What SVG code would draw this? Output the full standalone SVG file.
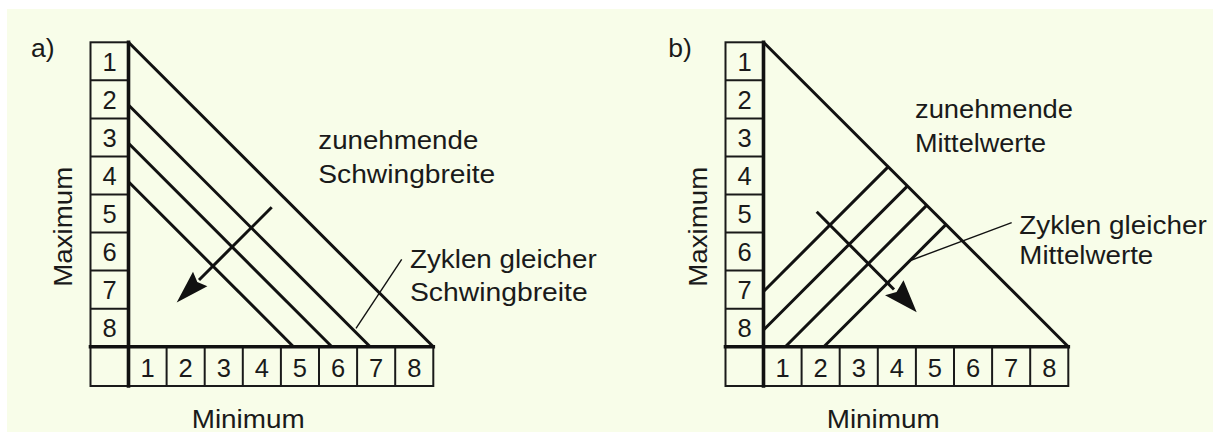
<svg xmlns="http://www.w3.org/2000/svg" width="1213" height="432" viewBox="0 0 1213 432">
  <style>
    .bg { fill: #f8fde9; }
    .cell { fill: none; stroke: #1a1a1a; stroke-width: 2; }
    .axis { fill: none; stroke: #111; stroke-width: 3.6; stroke-linecap: square; }
    .diag { fill: none; stroke: #111; stroke-width: 3; }
    .leader { fill: none; stroke: #111; stroke-width: 1.4; }
    .head { fill: #111; stroke: none; }
    text { font-family: "Liberation Sans", Arial, Helvetica, sans-serif; fill: #1a1a1a; }
    .lbl { font-size: 26.5px; }
    .dig { font-size: 25.5px; text-anchor: middle; }
  </style>
  <rect x="0" y="0" width="1213" height="432" fill="#ffffff"/>
  <rect class="bg" x="7" y="9" width="1206" height="423"/>

  <!-- Panel a -->
  <g id="panel-a">
    <g id="a-connectors">
      <line class="diag" x1="128.5" y1="42.3" x2="433.3" y2="346.7"/>
      <line class="diag" x1="128.5" y1="105" x2="370.2" y2="346.7"/>
      <line class="diag" x1="128.5" y1="143.3" x2="331.9" y2="346.7"/>
      <line class="diag" x1="128.5" y1="181.7" x2="293.5" y2="346.7"/>
      <line class="diag" x1="271.7" y1="207.3" x2="199" y2="280"/>
      <polygon class="head" points="176.7,302.5 193,271.8 197.3,281.9 207.4,286.2"/>
      <line class="leader" x1="401.7" y1="259.3" x2="356" y2="328.3"/>
    </g>
    <g id="a-max-axis">
      <rect class="cell" x="90.5" y="42.3" width="38" height="304.4"/>
      <line class="cell" x1="90.5" y1="80.35" x2="128.5" y2="80.35"/>
      <line class="cell" x1="90.5" y1="118.4" x2="128.5" y2="118.4"/>
      <line class="cell" x1="90.5" y1="156.45" x2="128.5" y2="156.45"/>
      <line class="cell" x1="90.5" y1="194.5" x2="128.5" y2="194.5"/>
      <line class="cell" x1="90.5" y1="232.55" x2="128.5" y2="232.55"/>
      <line class="cell" x1="90.5" y1="270.6" x2="128.5" y2="270.6"/>
      <line class="cell" x1="90.5" y1="308.65" x2="128.5" y2="308.65"/>
      <text class="dig" x="109.5" y="70.8">1</text>
      <text class="dig" x="109.5" y="108.85">2</text>
      <text class="dig" x="109.5" y="146.9">3</text>
      <text class="dig" x="109.5" y="184.95">4</text>
      <text class="dig" x="109.5" y="223">5</text>
      <text class="dig" x="109.5" y="261.05">6</text>
      <text class="dig" x="109.5" y="299.1">7</text>
      <text class="dig" x="109.5" y="337.15">8</text>
    </g>
    <g id="a-min-axis">
      <rect class="cell" x="90.5" y="346.7" width="342.8" height="39.3"/>
      <line class="cell" x1="166.6" y1="346.7" x2="166.6" y2="386"/>
      <line class="cell" x1="204.7" y1="346.7" x2="204.7" y2="386"/>
      <line class="cell" x1="242.8" y1="346.7" x2="242.8" y2="386"/>
      <line class="cell" x1="280.9" y1="346.7" x2="280.9" y2="386"/>
      <line class="cell" x1="319" y1="346.7" x2="319" y2="386"/>
      <line class="cell" x1="357.1" y1="346.7" x2="357.1" y2="386"/>
      <line class="cell" x1="395.2" y1="346.7" x2="395.2" y2="386"/>
      <text class="dig" x="147.55" y="376.5">1</text>
      <text class="dig" x="185.65" y="376.5">2</text>
      <text class="dig" x="223.75" y="376.5">3</text>
      <text class="dig" x="261.85" y="376.5">4</text>
      <text class="dig" x="299.95" y="376.5">5</text>
      <text class="dig" x="338.05" y="376.5">6</text>
      <text class="dig" x="376.15" y="376.5">7</text>
      <text class="dig" x="414.25" y="376.5">8</text>
    </g>
    <g id="a-axes">
      <line class="axis" x1="128.5" y1="42.3" x2="128.5" y2="386"/>
      <line class="axis" x1="90.5" y1="346.7" x2="433.3" y2="346.7"/>
    </g>
    <g id="a-labels">
      <text class="lbl" x="31" y="57">a)</text>
      <text class="lbl" x="318.3" y="149" textLength="160" lengthAdjust="spacingAndGlyphs">zunehmende</text>
      <text class="lbl" x="318.3" y="182.7" textLength="177" lengthAdjust="spacingAndGlyphs">Schwingbreite</text>
      <text class="lbl" x="410" y="268.3" textLength="186.7" lengthAdjust="spacingAndGlyphs">Zyklen gleicher</text>
      <text class="lbl" x="410" y="300.7" textLength="177.7" lengthAdjust="spacingAndGlyphs">Schwingbreite</text>
      <text class="lbl" x="191.7" y="428" textLength="113" lengthAdjust="spacingAndGlyphs">Minimum</text>
      <text class="lbl" transform="translate(71.5,286.7) rotate(-90)" x="0" y="0" textLength="120" lengthAdjust="spacingAndGlyphs">Maximum</text>
    </g>
  </g>

  <!-- Panel b -->
  <g id="panel-b">
    <g id="b-connectors">
      <line class="diag" x1="763.5" y1="42.3" x2="1068.3" y2="346.7"/>
      <line class="diag" x1="763.5" y1="291.5" x2="888.1" y2="166.9"/>
      <line class="diag" x1="763.5" y1="330" x2="907.35" y2="186.15"/>
      <line class="diag" x1="785.3" y1="346.7" x2="926.6" y2="205.4"/>
      <line class="diag" x1="823.8" y1="346.7" x2="945.85" y2="224.65"/>
      <line class="diag" x1="816.7" y1="211.7" x2="894" y2="289.5"/>
      <polygon class="head" points="916.7,312.3 903.5,280.3 896.5,291.9 885,295.3"/>
      <line class="leader" x1="1011.7" y1="222.7" x2="909" y2="261"/>
    </g>
    <g id="b-max-axis">
      <rect class="cell" x="725.5" y="42.3" width="38" height="304.4"/>
      <line class="cell" x1="725.5" y1="80.35" x2="763.5" y2="80.35"/>
      <line class="cell" x1="725.5" y1="118.4" x2="763.5" y2="118.4"/>
      <line class="cell" x1="725.5" y1="156.45" x2="763.5" y2="156.45"/>
      <line class="cell" x1="725.5" y1="194.5" x2="763.5" y2="194.5"/>
      <line class="cell" x1="725.5" y1="232.55" x2="763.5" y2="232.55"/>
      <line class="cell" x1="725.5" y1="270.6" x2="763.5" y2="270.6"/>
      <line class="cell" x1="725.5" y1="308.65" x2="763.5" y2="308.65"/>
      <text class="dig" x="744.5" y="70.8">1</text>
      <text class="dig" x="744.5" y="108.85">2</text>
      <text class="dig" x="744.5" y="146.9">3</text>
      <text class="dig" x="744.5" y="184.95">4</text>
      <text class="dig" x="744.5" y="223">5</text>
      <text class="dig" x="744.5" y="261.05">6</text>
      <text class="dig" x="744.5" y="299.1">7</text>
      <text class="dig" x="744.5" y="337.15">8</text>
    </g>
    <g id="b-min-axis">
      <rect class="cell" x="725.5" y="346.7" width="342.8" height="39.3"/>
      <line class="cell" x1="801.6" y1="346.7" x2="801.6" y2="386"/>
      <line class="cell" x1="839.7" y1="346.7" x2="839.7" y2="386"/>
      <line class="cell" x1="877.8" y1="346.7" x2="877.8" y2="386"/>
      <line class="cell" x1="915.9" y1="346.7" x2="915.9" y2="386"/>
      <line class="cell" x1="954" y1="346.7" x2="954" y2="386"/>
      <line class="cell" x1="992.1" y1="346.7" x2="992.1" y2="386"/>
      <line class="cell" x1="1030.2" y1="346.7" x2="1030.2" y2="386"/>
      <text class="dig" x="782.55" y="376.5">1</text>
      <text class="dig" x="820.65" y="376.5">2</text>
      <text class="dig" x="858.75" y="376.5">3</text>
      <text class="dig" x="896.85" y="376.5">4</text>
      <text class="dig" x="934.95" y="376.5">5</text>
      <text class="dig" x="973.05" y="376.5">6</text>
      <text class="dig" x="1011.15" y="376.5">7</text>
      <text class="dig" x="1049.25" y="376.5">8</text>
    </g>
    <g id="b-axes">
      <line class="axis" x1="763.5" y1="42.3" x2="763.5" y2="386"/>
      <line class="axis" x1="725.5" y1="346.7" x2="1068.3" y2="346.7"/>
    </g>
    <g id="b-labels">
      <text class="lbl" x="668.3" y="57">b)</text>
      <text class="lbl" x="915" y="118.3" textLength="158" lengthAdjust="spacingAndGlyphs">zunehmende</text>
      <text class="lbl" x="915" y="151.7" textLength="131" lengthAdjust="spacingAndGlyphs">Mittelwerte</text>
      <text class="lbl" x="1019.3" y="234" textLength="187.4" lengthAdjust="spacingAndGlyphs">Zyklen gleicher</text>
      <text class="lbl" x="1019.3" y="264" textLength="134" lengthAdjust="spacingAndGlyphs">Mittelwerte</text>
      <text class="lbl" x="826.7" y="428" textLength="113" lengthAdjust="spacingAndGlyphs">Minimum</text>
      <text class="lbl" transform="translate(706.5,286.7) rotate(-90)" x="0" y="0" textLength="120" lengthAdjust="spacingAndGlyphs">Maximum</text>
    </g>
  </g>
</svg>
